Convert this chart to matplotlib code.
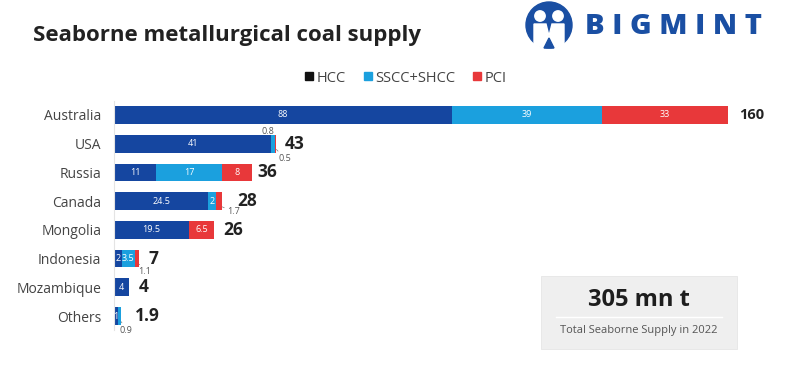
import numpy as np
import matplotlib
matplotlib.use("Agg")
import matplotlib.pyplot as plt
from matplotlib.patches import Circle, FancyBboxPatch, Polygon
from matplotlib.lines import Line2D

plt.rcParams['font.family'] = ['Open Sans', 'DejaVu Sans']

# data (mn t)
countries = ['Australia', 'USA', 'Russia', 'Canada', 'Mongolia',
             'Indonesia', 'Mozambique', 'Others']
hcc = [88, 41, 11, 24.5, 19.5, 2, 4, 1]
sscc = [39, 0.8, 17, 2, 0, 3.5, 0, 0.9]
pci = [33, 0.5, 8, 1.7, 6.5, 1.1, 0, 0]
totals = ['160', '43', '36', '28', '26', '7', '4', '1.9']
total_supply = '305 mn t'
total_caption = 'Total Seaborne Supply in 2022'

C_HCC = '#1546a0'
C_SSCC = '#1ba0de'
C_PCI = '#e8383a'

W, H = 789, 370
fig = plt.figure(figsize=(W / 100, H / 100), dpi=100)


def fx(x):
    return x / W


def fy(y):
    return 1 - y / H


ax = fig.add_axes([fx(114), fy(330.4), fx(672), 229.8 / H])
y = np.arange(len(countries))
h = 0.62
hcc = np.array(hcc)
sscc = np.array(sscc)
pci = np.array(pci)
ax.barh(y, hcc, height=h, color=C_HCC)
ax.barh(y, sscc, left=hcc, height=h, color=C_SSCC)
ax.barh(y, pci, left=hcc + sscc, height=h, color=C_PCI)
ax.set_xlim(0, 175)
ax.set_ylim(len(countries) - 0.5, -0.5)

for s in ['top', 'right', 'bottom']:
    ax.spines[s].set_visible(False)
ax.spines['left'].set_color('#e4e4e4')
ax.spines['left'].set_linewidth(0.8)
ax.set_xticks([])
ax.set_yticks(y)
ax.set_yticklabels(countries, fontsize=10, color='#444444')
ax.tick_params(axis='y', length=0, pad=9)

# segments whose value sits outside the bar: (row, segment) -> (offset, above?, leader?)
outside = {(1, 1): ((-4.7, 4.5), True, False),
           (1, 2): ((6, -6.5), False, True),
           (3, 2): ((8, -3.6), False, True),
           (5, 2): ((4, -5.5), False, True),
           (7, 1): ((3.6, -6), False, True)}
# extra room for the total where a leader label sits next to it
total_gap = {0: 8, 1: 6, 2: 4, 3: 11, 7: 9.5}

for i in range(len(countries)):
    segs = [(0, hcc[i]), (hcc[i], sscc[i]), (hcc[i] + sscc[i], pci[i])]
    for k, (left, w) in enumerate(segs):
        if w <= 0:
            continue
        lab = f'{w:g}'
        if (i, k) in outside:
            off, above, leader = outside[(i, k)]
            yy = i - 0.2 if above else i + 0.2
            ax.annotate(lab, (left + w, yy), xytext=off,
                        textcoords='offset points', ha='center', va='center',
                        fontsize=6.5, color='#555555',
                        arrowprops=dict(arrowstyle='-', color='#777777', lw=0.5,
                                        shrinkA=3, shrinkB=0) if leader else None)
        else:
            ax.text(left + w / 2, i, lab, ha='center', va='center',
                    color='white', fontsize=6.5)
    end = hcc[i] + sscc[i] + pci[i]
    big = 10.5 if i == 0 else 12.5
    ax.annotate(totals[i], (end, i), xytext=(total_gap.get(i, 6.5), 0),
                textcoords='offset points', ha='left', va='center',
                fontsize=big, fontweight='bold', color='#222222')

# title
fig.text(fx(33), fy(35), 'Seaborne metallurgical coal supply', fontsize=16,
         fontweight='bold', color='#222222', va='center', ha='left')

# legend
handles = [Line2D([], [], marker='s', ls='', color=c, markersize=6)
           for c in ['#111111', C_SSCC, C_PCI]]
fig.legend(handles, ['HCC', 'SSCC+SHCC', 'PCI'], loc='center',
           bbox_to_anchor=(fx(405), fy(78)), ncol=3, frameon=False,
           fontsize=10.5, labelcolor='#444444', handletextpad=0.1,
           columnspacing=1.1, handlelength=0.8)

# logo
lax = fig.add_axes([0, 0, 1, 1], zorder=5)
lax.set_xlim(0, W)
lax.set_ylim(H, 0)
lax.axis('off')
blue = '#1a4fa3'
lax.add_patch(Circle((549, 25), 23, color=blue))
lax.add_patch(Circle((540, 16), 5.2, color='white'))
lax.add_patch(Circle((558, 16), 5.2, color='white'))
lax.add_patch(Polygon([(534, 24), (546, 24), (549, 36), (552, 24), (564, 24),
                       (564, 45), (555, 48), (549, 40), (543, 48), (534, 45)],
                      closed=True, color='white'))
lax.add_patch(Polygon([(544, 48), (549, 38), (554, 48)], color=blue))
lax.text(585, 27, 'B I G M I N T', fontsize=21, fontweight='heavy', color=blue,
         ha='left', va='center')

# total box
lax.add_patch(FancyBboxPatch((541, 276), 196, 73, boxstyle='square,pad=0',
                             facecolor='#efefef', edgecolor='#e6e6e6', lw=0.6))
lax.plot([556, 722], [317, 317], color='white', lw=1)
lax.text(639, 300, total_supply, fontsize=17, fontweight='bold',
         color='#1e1e1e', ha='center', va='center')
lax.text(639, 330, total_caption, fontsize=8, color='#555555',
         ha='center', va='center')

fig.savefig('out.png', dpi=100, facecolor='white')
